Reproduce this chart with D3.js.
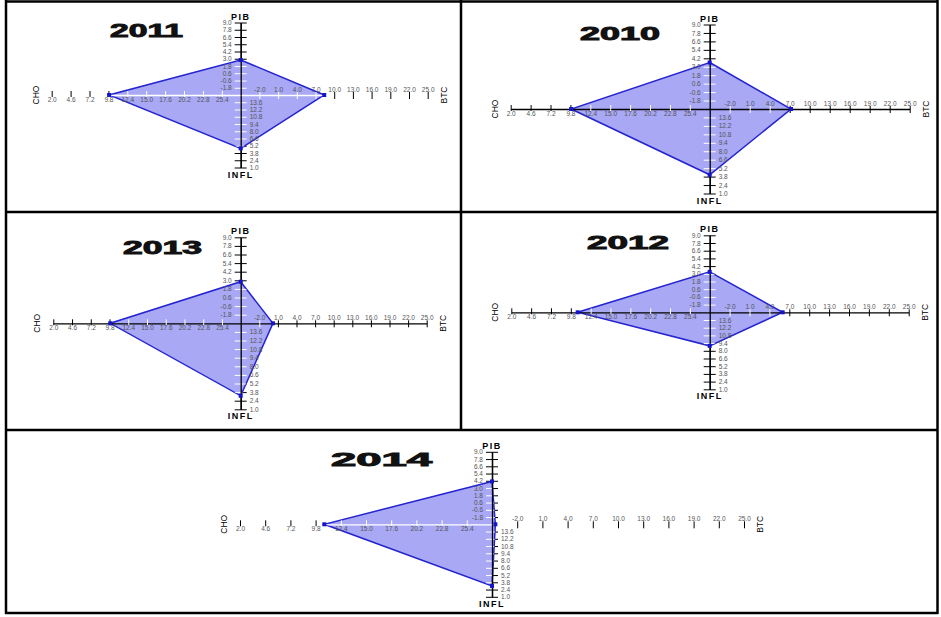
<!DOCTYPE html>
<html><head><meta charset="utf-8">
<script src="https://cdn.jsdelivr.net/npm/d3@7"></script>
<style>body{margin:0;background:#fff} svg{display:block}</style>
</head><body>
<svg id="chart" width="941" height="617"></svg>
<script>
// ---- data ----
const years = ["2010","2011","2012","2013","2014"];
const pib  = [3.6, 2.8, 3.3, 2.8, 4.1];
const infl = [4.1, 4.7, 8.9, 3.2, 3.1];
const cho  = [9.9, 9.9, 10.7, 9.9, 10.7];
const btc  = [7.2, 8.4, 6.0, 0.2, -4.6];

const pibTicks  = [-1.8,-0.6,0.6,1.8,3.0,4.2,5.4,6.6,7.8,9.0];
const inflTicks = [13.6,12.2,10.8,9.4,8.0,6.6,5.2,3.8,2.4,1.0];
const choTicks  = [25.4,22.8,20.2,17.6,15.0,12.4,9.8,7.2,4.6,2.0];
const btcTicks  = [-2.0,1.0,4.0,7.0,10.0,13.0,16.0,19.0,22.0,25.0];
const axisNames = {pib:"PIB", infl:"INFL", cho:"CHO", btc:"BTC"};
const axisCenters = {pib:-3.0, infl:15.0, cho:28.0, btc:-5.0};

// ---- layout (positions / sizes) ----
const layout = {
  "2011": {cx:240.7, cy:95,    v:72.5, l:189,   r:187, title:[110,37,73],  hline:false},
  "2010": {cx:709.7, cy:109,   v:84.5, l:199,   r:200, title:[580,40,80],  hline:true},
  "2013": {cx:240.7, cy:323.3, v:86,   l:187.4, r:186, title:[123,254,79], hline:true},
  "2012": {cx:709.7, cy:312.3, v:77,   l:198.4, r:199, title:[587,249,82], hline:true},
  "2014": {cx:492,   cy:524.3, v:72.5, l:252,   r:252, title:[331,466,101],hline:false}
};

const svg = d3.select("#chart");
svg.append("rect").attr("width",941).attr("height",617).attr("fill","#fff");

const FONT = "'Liberation Sans', Arial, sans-serif";
const fmt = d => d.toFixed(1);

years.forEach((yr, i) => {
  const L = layout[yr];
  const g = svg.append("g");
  const sP = d3.scaleLinear().domain([axisCenters.pib, d3.max(pibTicks)]).range([L.cy, L.cy - L.v]);
  const sI = d3.scaleLinear().domain([axisCenters.infl, d3.min(inflTicks)]).range([L.cy, L.cy + L.v]);
  const sC = d3.scaleLinear().domain([axisCenters.cho, d3.min(choTicks)]).range([L.cx, L.cx - L.l]);
  const sB = d3.scaleLinear().domain([axisCenters.btc, d3.max(btcTicks)]).range([L.cx, L.cx + L.r]);

  const pts = [[L.cx, sP(pib[i])], [sB(btc[i]), L.cy], [L.cx, sI(infl[i])], [sC(cho[i]), L.cy]];
  const line = d3.line().curve(d3.curveLinearClosed);
  const clipId = "clip" + yr;
  g.append("clipPath").attr("id", clipId).append("path").attr("d", line(pts));

  function axes(layer, mode) {
    const defs = [
      {ax: d3.axisLeft(sP).tickValues(pibTicks).tickSizeInner(6).tickPadding(3), tr:`translate(${L.cx},0)`, vert:true, cross:"x1", cv:6},
      {ax: d3.axisRight(sI).tickValues(inflTicks).tickSizeInner(6).tickPadding(3), tr:`translate(${L.cx},0)`, vert:true, cross:"x1", cv:-6},
      {ax: d3.axisBottom(sC).tickValues(choTicks).tickSizeInner(2).tickPadding(0), tr:`translate(0,${L.cy})`, vert:false, cross:"y1", cv:-4},
      {ax: d3.axisTop(sB).tickValues(btcTicks).tickSizeInner(3).tickPadding(0), tr:`translate(0,${L.cy})`, vert:false, cross:"y1", cv:4}
    ];
    defs.forEach(d => {
      const a = layer.append("g").attr("transform", d.tr)
        .call(d.ax.tickSizeOuter(0).tickFormat(fmt));
      a.attr("font-size", 6.5).attr("font-family", FONT);
      a.selectAll(".tick line").attr(d.cross, d.cv);
      const dom = a.select(".domain");
      if (mode === "base") {
        a.selectAll(".tick text").remove();
        a.selectAll(".tick line").attr("stroke", "#000").attr("stroke-width", 1);
        dom.attr("stroke", (d.vert || L.hline) ? "#000" : "none").attr("stroke-width", 1.3);
      } else if (mode === "white") {
        a.selectAll(".tick text").remove();
        a.selectAll(".tick line").attr("stroke", "#fff").attr("stroke-width", 1);
        dom.attr("stroke", d.vert ? "none" : (L.hline ? "#000" : "#fff")).attr("stroke-width", 1.3);
      } else {
        a.selectAll(".tick line").remove();
        dom.attr("stroke", d.vert ? "#000" : "none").attr("stroke-width", 1.3);
        a.selectAll(".tick text").attr("fill", "#555");
      }
    });
  }

  axes(g.append("g"), "base");
  g.append("path").attr("d", line(pts))
    .attr("fill", "#a8a8f4").attr("stroke", "#2424d0").attr("stroke-width", 1.5);
  axes(g.append("g").attr("clip-path", `url(#${clipId})`), "white");
  axes(g.append("g"), "top");

  // vertex markers
  g.selectAll("rect.mk").data(pts).join("rect").attr("class", "mk")
    .attr("x", d => d[0] - 2).attr("y", d => d[1] - 2).attr("width", 4).attr("height", 4)
    .attr("fill", "#1414c8");

  // axis titles
  g.append("text").attr("x", L.cx).attr("y", sP.range()[1] - 3).attr("text-anchor", "middle")
    .attr("font-family", FONT).attr("font-weight", "bold").attr("font-size", 9).attr("letter-spacing", 1.5)
    .text(axisNames.pib);
  g.append("text").attr("x", L.cx).attr("y", sI.range()[1] + 10).attr("text-anchor", "middle")
    .attr("font-family", FONT).attr("font-weight", "bold").attr("font-size", 9).attr("letter-spacing", 1.5)
    .text(axisNames.infl);
  const xc = sC.range()[1] - 16, xb = sB.range()[1] + 16;
  g.append("text").attr("transform", `translate(${xc},${L.cy}) rotate(-90)`).attr("text-anchor", "middle")
    .attr("dominant-baseline", "central").attr("font-family", FONT).attr("font-size", 8.5)
    .text(axisNames.cho);
  g.append("text").attr("transform", `translate(${xb},${L.cy}) rotate(-90)`).attr("text-anchor", "middle")
    .attr("dominant-baseline", "central").attr("font-family", FONT).attr("font-size", 8.5)
    .text(axisNames.btc);

  // year title
  g.append("text").attr("x", L.title[0]).attr("y", L.title[1])
    .attr("font-family", FONT).attr("font-weight", "bold").attr("font-size", 18)
    .attr("stroke", "#111").attr("stroke-width", 0.9).attr("fill", "#111")
    .attr("textLength", L.title[2]).attr("lengthAdjust", "spacingAndGlyphs")
    .text(yr);
});

// grid borders
const borders = [
  [5, 1.5, 938, 1.5], [5, 212, 938, 212], [5, 430, 938, 430], [5, 613, 938, 613],
  [6, 0, 6, 614], [937.5, 0, 937.5, 614], [461, 0, 461, 430]
];
svg.selectAll("line.border").data(borders).join("line").attr("class", "border")
  .attr("x1", d => d[0]).attr("y1", d => d[1]).attr("x2", d => d[2]).attr("y2", d => d[3])
  .attr("stroke", "#000").attr("stroke-width", 2.5);
</script>
</body></html>
